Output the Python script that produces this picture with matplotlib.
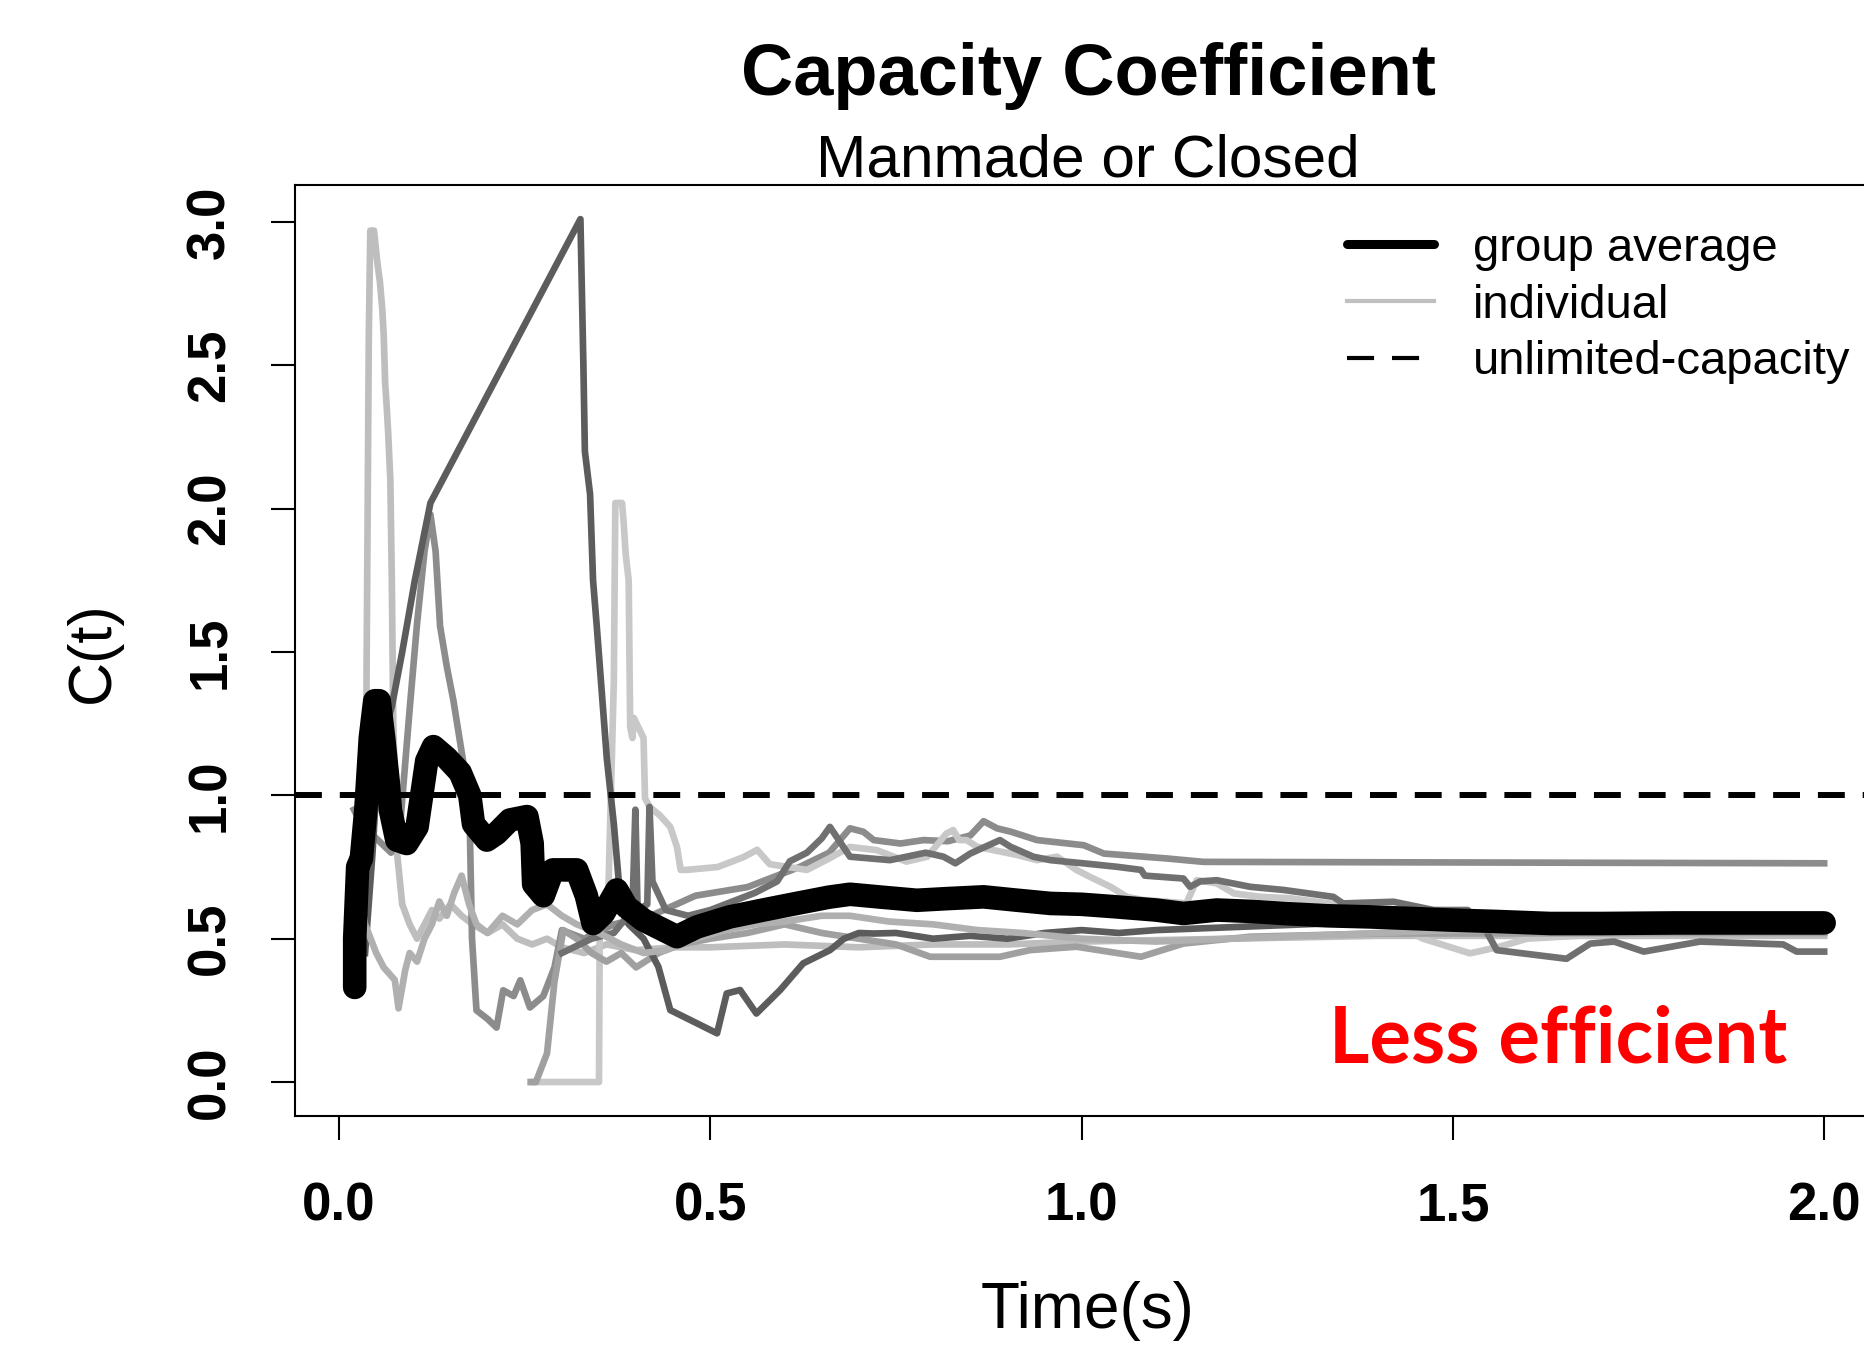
import numpy as np
import matplotlib
matplotlib.use('Agg')
import matplotlib.pyplot as plt
from matplotlib.lines import Line2D

plt.rcParams['font.family'] = ['Liberation Sans', 'DejaVu Sans']

# individual capacity curves (time in s, C(t))
ind1_t = [0.030, 0.036, 0.037, 0.040, 0.042, 0.047, 0.051, 0.055, 0.058, 0.060, 0.062, 0.064, 0.066, 0.069,
          0.071, 0.073, 0.078, 0.085, 0.095, 0.105, 0.115, 0.125, 0.135, 0.150, 0.165, 0.180, 0.200, 0.220,
          0.240, 0.260, 0.280, 0.300, 0.330, 0.360, 0.400, 0.450, 0.500, 0.600, 0.700, 0.800, 0.900, 1.000,
          1.200, 1.400, 1.600, 1.800, 2.000]
ind1_c = [0.55, 0.62, 1.43, 2.60, 2.97, 2.97, 2.87, 2.79, 2.70, 2.61, 2.44, 2.36, 2.27, 2.10,
          1.75, 1.24, 0.80, 0.62, 0.55, 0.50, 0.55, 0.60, 0.57, 0.62, 0.58, 0.55, 0.52, 0.55,
          0.50, 0.48, 0.50, 0.47, 0.45, 0.48, 0.46, 0.47, 0.47, 0.48, 0.47, 0.48, 0.48, 0.49,
          0.50, 0.51, 0.51, 0.51, 0.51]

ind2_t = [0.020, 0.030, 0.050, 0.070, 0.082, 0.095, 0.105, 0.115, 0.123, 0.130, 0.136, 0.145, 0.154, 0.167,
          0.176, 0.179, 0.185, 0.200, 0.212, 0.221, 0.235, 0.244, 0.257, 0.275, 0.290, 0.300, 0.330, 0.370,
          0.420, 0.480, 0.550, 0.620, 0.660, 0.688, 0.706, 0.720, 0.756, 0.787, 0.820, 0.850, 0.868, 0.886,
          0.905, 0.940, 1.003, 1.030, 1.114, 1.164, 2.000]
ind2_c = [0.95, 0.90, 0.85, 0.80, 0.89, 1.30, 1.60, 1.85, 1.98, 1.85, 1.59, 1.45, 1.33, 1.12,
          0.89, 0.50, 0.25, 0.22, 0.19, 0.32, 0.30, 0.355, 0.26, 0.30, 0.40, 0.53, 0.50, 0.55,
          0.58, 0.65, 0.68, 0.75, 0.80, 0.885, 0.873, 0.844, 0.832, 0.844, 0.84, 0.86, 0.91, 0.885,
          0.873, 0.844, 0.826, 0.797, 0.780, 0.768, 0.763]

ind3_t = [0.262, 0.350, 0.351, 0.362, 0.370, 0.372, 0.381, 0.383, 0.386, 0.390, 0.392, 0.395, 0.397, 0.410,
          0.412, 0.418, 0.432, 0.446, 0.455, 0.460, 0.468, 0.510, 0.545, 0.563, 0.580, 0.630, 0.660, 0.688,
          0.724, 0.764, 0.792, 0.818, 0.827, 0.835, 0.845, 0.859, 0.881, 0.913, 0.940, 0.967, 0.993, 1.011,
          1.039, 1.061, 1.083, 1.114, 1.141, 1.155, 1.182, 1.205, 1.241, 1.281, 1.334, 1.388, 1.420, 1.460,
          1.523, 1.560, 1.600, 1.700, 2.000]
ind3_c = [0.00, 0.00, 0.55, 0.60, 1.40, 2.02, 2.02, 1.96, 1.84, 1.75, 1.24, 1.20, 1.27, 1.20,
          0.99, 0.96, 0.93, 0.89, 0.82, 0.74, 0.74, 0.75, 0.785, 0.81, 0.76, 0.74, 0.78, 0.82,
          0.809, 0.769, 0.786, 0.867, 0.879, 0.844, 0.844, 0.821, 0.809, 0.792, 0.774, 0.786, 0.74, 0.716,
          0.681, 0.646, 0.635, 0.629, 0.623, 0.704, 0.693, 0.658, 0.646, 0.641, 0.623, 0.611, 0.55, 0.50,
          0.449, 0.47, 0.50, 0.515, 0.52]

ind4_t = [0.258, 0.265, 0.280, 0.290, 0.302, 0.320, 0.340, 0.360, 0.380, 0.400, 0.430, 0.460, 0.500, 0.550,
          0.600, 0.650, 0.700, 0.750, 0.796, 0.890, 0.930, 0.993, 1.080, 1.137, 1.227, 1.400, 2.000]
ind4_c = [0.00, 0.00, 0.10, 0.35, 0.53, 0.50, 0.45, 0.42, 0.45, 0.40, 0.45, 0.48, 0.50, 0.52,
          0.55, 0.52, 0.50, 0.48, 0.437, 0.437, 0.46, 0.472, 0.437, 0.483, 0.507, 0.518, 0.52]

ind5_t = [0.035, 0.045, 0.053, 0.071, 0.085, 0.102, 0.123, 0.325, 0.329, 0.331, 0.338, 0.342, 0.347, 0.3605,
          0.370, 0.378, 0.390, 0.410, 0.430, 0.446, 0.509, 0.522, 0.540, 0.562, 0.594, 0.625, 0.661, 0.680,
          0.700, 0.720, 0.750, 0.800, 0.850, 0.900, 0.950, 1.000, 1.050, 1.100, 1.200, 1.300, 1.400, 1.500,
          1.600, 1.800, 2.000]
ind5_c = [0.45, 0.80, 1.15, 1.31, 1.50, 1.75, 2.02, 3.01, 2.50, 2.20, 2.05, 1.75, 1.59, 1.13,
          0.90, 0.66, 0.55, 0.50, 0.402, 0.251, 0.17, 0.309, 0.321, 0.239, 0.321, 0.414, 0.46, 0.50,
          0.52, 0.518, 0.52, 0.50, 0.51, 0.50, 0.52, 0.53, 0.52, 0.53, 0.54, 0.55, 0.56, 0.56,
          0.55, 0.55, 0.55]

ind6_t = [0.300, 0.340, 0.370, 0.395, 0.399, 0.402, 0.415, 0.418, 0.422, 0.440, 0.470, 0.500, 0.530, 0.560,
          0.590, 0.607, 0.630, 0.650, 0.661, 0.688, 0.742, 0.790, 0.814, 0.830, 0.850, 0.890, 0.904, 0.935,
          0.958, 1.002, 1.047, 1.080, 1.085, 1.137, 1.146, 1.160, 1.182, 1.227, 1.272, 1.339, 1.352, 1.420,
          1.474, 1.520, 1.540, 1.559, 1.653, 1.685, 1.717, 1.757, 1.833, 1.945, 1.963, 2.000]
ind6_c = [0.45, 0.50, 0.52, 0.60, 0.95, 0.60, 0.62, 0.96, 0.70, 0.60, 0.58, 0.60, 0.63, 0.66,
          0.70, 0.77, 0.80, 0.85, 0.89, 0.786, 0.774, 0.80, 0.786, 0.763, 0.797, 0.844, 0.821, 0.786,
          0.774, 0.763, 0.751, 0.74, 0.72, 0.71, 0.681, 0.70, 0.704, 0.681, 0.67, 0.646, 0.623, 0.629,
          0.60, 0.60, 0.55, 0.46, 0.43, 0.483, 0.49, 0.455, 0.49, 0.48, 0.455, 0.455]

ind7_t = [0.025, 0.035, 0.050, 0.060, 0.075, 0.080, 0.089, 0.095, 0.105, 0.115, 0.125, 0.135, 0.145, 0.155,
          0.165, 0.175, 0.185, 0.200, 0.220, 0.240, 0.260, 0.280, 0.300, 0.320, 0.350, 0.380, 0.410, 0.440,
          0.480, 0.520, 0.560, 0.600, 0.650, 0.688, 0.740, 0.800, 0.860, 0.920, 1.000, 1.100, 1.200, 1.300,
          1.400, 1.500, 2.000]
ind7_c = [0.70, 0.55, 0.45, 0.40, 0.356, 0.257, 0.39, 0.45, 0.42, 0.50, 0.55, 0.63, 0.58, 0.66,
          0.72, 0.62, 0.55, 0.52, 0.58, 0.55, 0.60, 0.62, 0.58, 0.55, 0.52, 0.48, 0.45, 0.46,
          0.50, 0.53, 0.55, 0.56, 0.58, 0.58, 0.56, 0.55, 0.53, 0.52, 0.50, 0.49, 0.50, 0.51,
          0.52, 0.53, 0.53]

ind_colors = ['#bebebe', '#8c8c8c', '#c8c8c8', '#a0a0a0', '#5c5c5c', '#707070', '#b0b0b0']

# group average
avg_t = [0.021, 0.021, 0.025, 0.030, 0.036, 0.042, 0.048, 0.054, 0.060, 0.066, 0.069, 0.0777, 0.091, 0.105,
         0.118, 0.127, 0.145, 0.163, 0.176, 0.181, 0.199, 0.212, 0.230, 0.253, 0.260, 0.262, 0.275, 0.288,
         0.320, 0.333, 0.342, 0.356, 0.374, 0.387, 0.410, 0.437, 0.455, 0.482, 0.526, 0.571, 0.616, 0.660,
         0.688, 0.730, 0.778, 0.820, 0.868, 0.910, 0.958, 1.000, 1.047, 1.100, 1.137, 1.182, 1.230, 1.272,
         1.330, 1.388, 1.450, 1.497, 1.560, 1.631, 1.700, 1.800, 1.900, 2.000]
avg_c = [0.33, 0.50, 0.75, 0.78, 0.95, 1.20, 1.33, 1.33, 1.20, 1.05, 0.95, 0.844, 0.832, 0.89,
         1.12, 1.17, 1.13, 1.08, 1.00, 0.90, 0.844, 0.867, 0.914, 0.926, 0.833, 0.69, 0.65, 0.74,
         0.74, 0.65, 0.553, 0.588, 0.67, 0.611, 0.565, 0.53, 0.507, 0.541, 0.576, 0.60, 0.623, 0.645,
         0.655, 0.645, 0.634, 0.64, 0.646, 0.635, 0.623, 0.62, 0.611, 0.60, 0.588, 0.60, 0.595, 0.588,
         0.58, 0.576, 0.57, 0.565, 0.56, 0.553, 0.553, 0.555, 0.555, 0.555]

unlimited = 1.0
xticks = [0.0, 0.5, 1.0, 1.5, 2.0]
yticks = [0.0, 0.5, 1.0, 1.5, 2.0, 2.5, 3.0]

fig = plt.figure(figsize=(18.64, 13.5), dpi=100)
ax = fig.add_axes([0.1583, 0.1733, 0.8514, 0.6896])

individuals = [(ind1_t, ind1_c), (ind2_t, ind2_c), (ind3_t, ind3_c), (ind4_t, ind4_c),
               (ind5_t, ind5_c), (ind6_t, ind6_c), (ind7_t, ind7_c)]
for (t, c), col in zip(individuals, ind_colors):
    ax.plot(t, c, color=col, lw=4.8)

ax.axhline(unlimited, color='black', lw=4.3, dashes=(4.5, 3.0))
ax.plot(avg_t, avg_c, color='black', lw=17, solid_capstyle='round', solid_joinstyle='round')

ax.set_xlim(-0.0593, 2.078)
ax.set_ylim(-0.1186, 3.1287)
ax.set_xticks(xticks)
ax.set_xticklabels(['%.1f' % v for v in xticks], fontsize=38, fontweight='bold')
ax.set_yticks(yticks)
ax.set_yticklabels(['%.1f' % v for v in yticks], fontsize=38, fontweight='bold',
                   rotation=90, va='center')
ax.tick_params(axis='x', length=17, width=1.5, pad=30)
ax.tick_params(axis='y', length=17, width=1.5, pad=26)
for sp in ax.spines.values():
    sp.set_linewidth(1.5)

fig.text(0.5837, 0.9296, 'Capacity Coefficient', ha='center', va='baseline',
         fontsize=52, fontweight='bold')
fig.text(0.5837, 0.8696, 'Manmade or Closed', ha='center', va='baseline', fontsize=43.5)
fig.text(0.5837, 0.0289, 'Time(s)', ha='center', va='center', fontsize=46)
fig.text(0.0499, 0.517, 'C(t)', ha='center', va='center', rotation=90, fontsize=44)

fig.text(0.713, 0.2133, 'Less efficient', ha='left', va='baseline', color='red',
         fontsize=56, fontweight='bold', family=['Lato', 'DejaVu Sans'])

handles = [Line2D([], [], color='black', lw=6.5, solid_capstyle='round'),
           Line2D([], [], color='#c0c0c0', lw=3.0),
           Line2D([], [], color='black', lw=3.0, dashes=(6.5, 4.3))]
ax.legend(handles, ['group average', 'individual', 'unlimited-capacity'],
          loc='upper left', bbox_to_anchor=(0.7226, 0.832), bbox_transform=fig.transFigure,
          frameon=False, fontsize=34, borderpad=0, borderaxespad=0,
          handlelength=1.85, handletextpad=0.82, labelspacing=0.27)

fig.savefig('out.png', dpi=100)
